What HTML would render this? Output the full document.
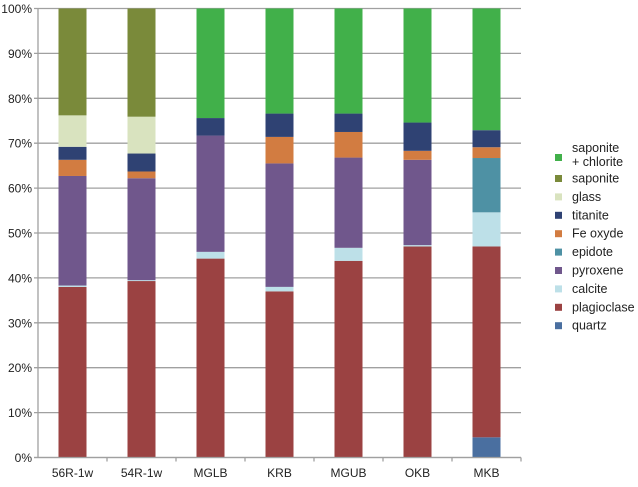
<!DOCTYPE html>
<html><head><meta charset="utf-8"><style>
body{margin:0;background:#fff;font-family:"Liberation Sans",sans-serif;}
svg text{font-family:"Liberation Sans",sans-serif;}
</style></head><body>
<svg id="chart" width="638" height="482" xmlns="http://www.w3.org/2000/svg"></svg>
<script>
const categories=["56R-1w","54R-1w","MGLB","KRB","MGUB","OKB","MKB"];
const seriesNames=["quartz","plagioclase","calcite","pyroxene","epidote","Fe oxyde","titanite","glass","saponite","saponite + chlorite"];
const quartz=[0,0,0,0,0,0,4.5];
const plagioclase=[38,39.3,44.3,37,43.8,47,42.5];
const calcite=[0.3,0.2,1.5,1,2.9,0.3,7.6];
const pyroxene=[24.4,22.7,25.9,27.5,20.1,19,0];
const epidote=[0,0,0,0,0,0,12.1];
const feOxyde=[3.6,1.5,0,5.9,5.7,2,2.4];
const titanite=[2.9,4,3.9,5.2,4.1,6.3,3.8];
const glass=[7,8.2,0,0,0,0,0];
const saponite=[23.8,24.1,0,0,0,0,0];
const saponiteChlorite=[0,0,24.4,23.4,23.4,25.4,27.1];
const yTicks=[0,10,20,30,40,50,60,70,80,90,100];
const series=[quartz,plagioclase,calcite,pyroxene,epidote,feOxyde,titanite,glass,saponite,saponiteChlorite];
const colors=["#4a6fa0","#9b4242","#bde0e8","#70578c","#4e91a4","#d27c41","#2f4273","#d9e3bf","#7a8a3a","#41b04a"];
const NS="http://www.w3.org/2000/svg";
const svg=document.getElementById('chart');
const x0=38,x1=521,y0=457.5,y1=8.5;
const bw=(x1-x0)/categories.length;
const yScale=v=>y0-(v/100)*(y0-y1);
const xCenter=i=>x0+bw*(i+0.5);
function mk(t,a){const e=document.createElementNS(NS,t);for(const k in a)e.setAttribute(k,a[k]);svg.appendChild(e);return e;}
yTicks.forEach(t=>{
  const y=yScale(t);
  const g=mk('line',{x1:x0-4,x2:x1,y1:y,y2:y,stroke:'#a0a0a0','stroke-width':1.3});
  
  
  const tx=mk('text',{x:32,y:y+4.5,'text-anchor':'end','font-size':12,fill:'#222'});
  tx.textContent=t+'%';
  
  
});
const ax=mk('line',{x1:x0,x2:x0,y1:y1,y2:y0,stroke:'#a0a0a0','stroke-width':1.3});


categories.forEach((c,i)=>{
  let cum=0;
  series.forEach((s,k)=>{
    const v=s[i];
    if(v>0){
      const r=mk('rect',{x:xCenter(i)-14,y:yScale(cum+v),width:28,height:yScale(cum)-yScale(cum+v),fill:colors[k]});
      
      
    }
    cum+=v;
  });
  const tk=mk('line',{x1:x0+bw*(i+1),x2:x0+bw*(i+1),y1:y0,y2:y0+4,stroke:'#a0a0a0','stroke-width':1.3});
  
  
  const tx=mk('text',{x:xCenter(i),y:477,'text-anchor':'middle','font-size':12,fill:'#222'});
  tx.textContent=c;
  
  
});
const xa=mk('line',{x1:x0-4,x2:x1,y1:y0,y2:y0,stroke:'#a0a0a0','stroke-width':1.3});


for(let k=seriesNames.length-1;k>=0;k--){
  const idx=seriesNames.length-1-k;
  const y=idx===0?157:178+(idx-1)*18.4;
  const m=mk('rect',{x:555,y:y-3,width:7,height:7,fill:colors[k]});
  
  
  const t=mk('text',{x:572,y:y+4.5,'font-size':12.5,fill:'#222'});
  
  
  if(idx===0){
    const a=document.createElementNS(NS,'tspan');a.setAttribute('x',572);a.setAttribute('y',152);a.textContent='saponite';t.appendChild(a);
    const b=document.createElementNS(NS,'tspan');b.setAttribute('x',572);b.setAttribute('y',166);b.textContent='+ chlorite';t.appendChild(b);
  } else t.textContent=seriesNames[k];
}
</script>
</body></html>
